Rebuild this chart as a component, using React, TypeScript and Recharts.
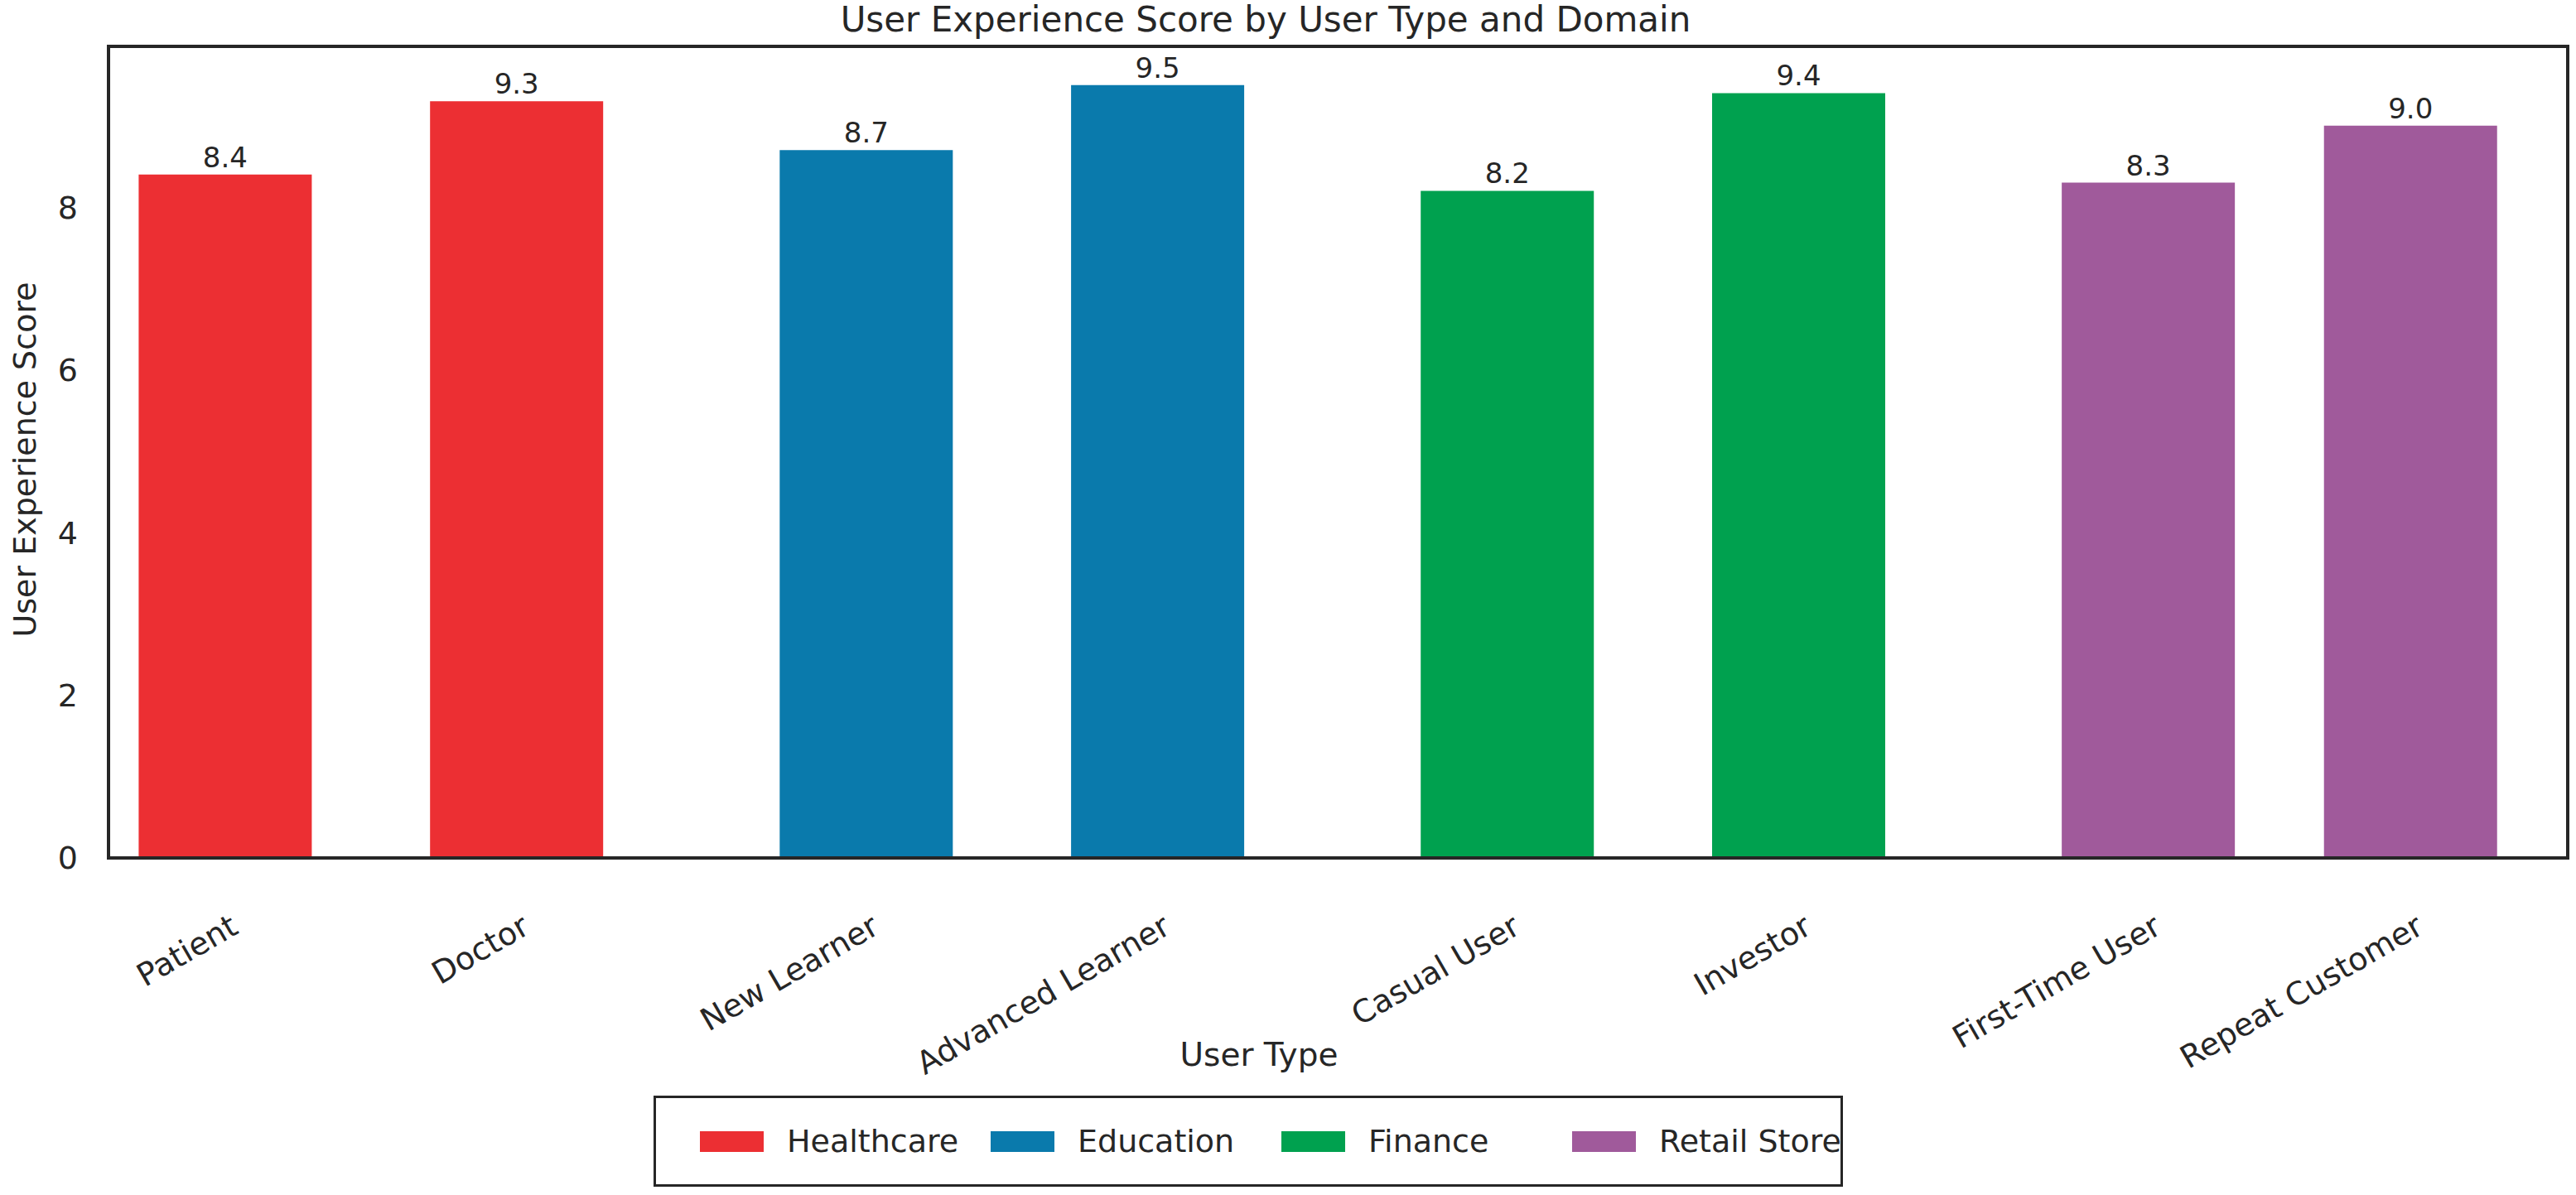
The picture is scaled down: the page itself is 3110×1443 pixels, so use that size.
import React from "react";
import { BarChart, Bar, XAxis, YAxis, Cell, LabelList } from "recharts";

const userTypes = [
    "Patient",
    "Doctor",
    "New Learner",
    "Advanced Learner",
    "Casual User",
    "Investor",
    "First-Time User",
    "Repeat Customer",
];
const typeDomain = [
    "Healthcare",
    "Healthcare",
    "Education",
    "Education",
    "Finance",
    "Finance",
    "Retail Store",
    "Retail Store",
];
const scores = [8.4, 9.3, 8.7, 9.5, 8.2, 9.4, 8.3, 9.0];
// bar positions along x (groups of two with a small gap between domains)
const positions = [0, 1, 2.2, 3.2, 4.4, 5.4, 6.6, 7.5];

const domains = ["Healthcare", "Education", "Finance", "Retail Store"];
const domainColors = ["#EC2F33", "#0A7AAC", "#00A14F", "#A05A9B"];
const yTicks = [0, 2, 4, 6, 8];

const W = 3110;
const H = 1443;
const PLOT = { left: 131, top: 56, right: 10, bottom: 407 };
const FONT = "'DejaVu Sans', sans-serif";
const TEXT = "#262626";

const data = userTypes.map((name, i) => ({
    name,
    pos: positions[i],
    score: scores[i],
    domain: typeDomain[i],
}));

const colorOf = (domain: string) => domainColors[domains.indexOf(domain)];

const XTick = (props: any) => {
    const { x, y, payload, index } = props;
    let i = positions.indexOf(payload.value);
    if (i < 0) i = index;
    const tx = x + 18;
    const ty = y + 90;
    return (
        <text
            x={tx}
            y={ty}
            transform={`rotate(-30 ${tx} ${ty})`}
            textAnchor="end"
            fontSize={38}
            fontFamily={FONT}
            fill={TEXT}
        >
            {userTypes[i]}
        </text>
    );
};

export default function App() {
    const plotW = W - PLOT.left - PLOT.right;
    const plotH = H - PLOT.top - PLOT.bottom;
    return (
        <div style={{ position: "absolute", left: 0, top: 0, width: W, height: H, background: "#fff", fontFamily: FONT, color: TEXT }}>
            <BarChart
                width={W}
                height={H}
                data={data}
                margin={{ top: PLOT.top, right: PLOT.right, bottom: 0, left: 0 }}
            >
                <XAxis
                    type="number"
                    dataKey="pos"
                    domain={[-0.4, 8.04]}
                    ticks={positions}
                    interval={0}
                    height={PLOT.bottom}
                    tickSize={0}
                    tickMargin={0}
                    axisLine={false}
                    tick={<XTick />}
                />
                <YAxis
                    type="number"
                    domain={[0, 9.975]}
                    ticks={yTicks}
                    width={PLOT.left}
                    tickSize={0}
                    tickMargin={37}
                    axisLine={false}
                    tick={{ fontSize: 38, fill: TEXT, fontFamily: FONT }}
                />
                <Bar dataKey="score" barSize={209} isAnimationActive={false}>
                    {data.map((d) => (
                        <Cell key={d.name} fill={colorOf(d.domain)} />
                    ))}
                    <LabelList
                        dataKey="score"
                        position="top"
                        offset={9}
                        formatter={(v: any) => Number(v).toFixed(1)}
                        style={{ fontSize: 34, fill: TEXT, fontFamily: FONT }}
                    />
                </Bar>
            </BarChart>

            {/* axes frame */}
            <div
                style={{
                    position: "absolute",
                    left: PLOT.left - 2,
                    top: PLOT.top - 2,
                    width: plotW + 4,
                    height: plotH + 4,
                    border: `4px solid ${TEXT}`,
                    boxSizing: "border-box",
                    pointerEvents: "none",
                }}
            />

            <div style={{ position: "absolute", left: 1528, top: 3, transform: "translateX(-50%)", fontSize: 42, lineHeight: "42px", whiteSpace: "nowrap" }}>
                User Experience Score by User Type and Domain
            </div>

            <div style={{ position: "absolute", left: 1520, top: 1254, transform: "translateX(-50%)", fontSize: 39, lineHeight: "39px", whiteSpace: "nowrap" }}>
                User Type
            </div>

            <div style={{ position: "absolute", left: 30, top: 555, transform: "translate(-50%, -50%) rotate(-90deg)", fontSize: 38, lineHeight: "38px", whiteSpace: "nowrap" }}>
                User Experience Score
            </div>

            {/* legend */}
            <div
                style={{
                    position: "absolute",
                    left: 789,
                    top: 1323,
                    width: 1436,
                    height: 110,
                    border: `3px solid ${TEXT}`,
                    boxSizing: "border-box",
                    display: "flex",
                    alignItems: "center",
                    paddingLeft: 53,
                }}
            >
                {domains.map((d, i) => (
                    <div key={d} style={{ display: "flex", alignItems: "center", width: i < domains.length - 1 ? 351 : "auto", flexShrink: 0 }}>
                        <div style={{ width: 77, height: 25, background: domainColors[i], marginRight: 28 }} />
                        <span style={{ fontSize: 38, lineHeight: "38px", whiteSpace: "nowrap" }}>{d}</span>
                    </div>
                ))}
            </div>
        </div>
    );
}
